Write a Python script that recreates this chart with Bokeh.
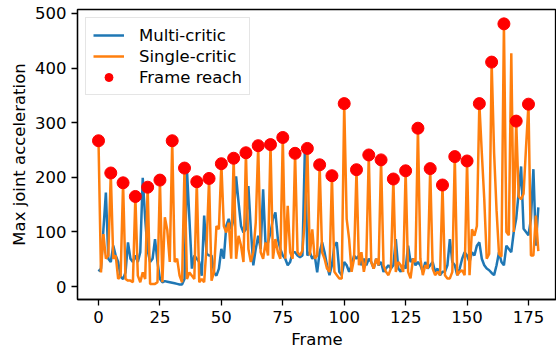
from bokeh.plotting import figure
from bokeh.models import Range1d, Legend, LegendItem, FixedTicker
from bokeh.embed import file_html
from bokeh.resources import INLINE

frames = list(range(180))

multi_critic = [
    28, 33, 105, 172, 51, 45, 75, 57, 45, 18,
    14, 26, 81, 51, 45, 57, 45, 63, 199, 124,
    66, 45, 51, 87, 45, 14, 8, 10, 9, 8,
    7, 6, 5, 4, 4, 14, 214, 124, 33, 57,
    51, 45, 20, 130, 60, 57, 57, 26, 20, 33,
    69, 51, 111, 124, 105, 124, 202, 154, 111, 99,
    105, 184, 105, 39, 69, 93, 69, 178, 75, 81,
    99, 124, 136, 87, 69, 57, 51, 39, 45, 63,
    63, 57, 54, 57, 254, 57, 63, 51, 57, 26,
    63, 81, 63, 39, 21, 39, 75, 81, 27, 21,
    45, 39, 27, 39, 57, 51, 57, 39, 51, 39,
    51, 45, 33, 51, 39, 45, 27, 33, 39, 33,
    39, 87, 33, 27, 39, 33, 75, 45, 51, 39,
    45, 39, 27, 45, 33, 39, 45, 27, 33, 21,
    27, 27, 39, 87, 45, 39, 21, 33, 51, 63,
    57, 45, 63, 57, 75, 81, 51, 39, 33, 30,
    25, 21, 39, 63, 45, 39, 75, 69, 63, 100,
    124, 172, 220, 106, 100, 94, 124, 215, 75, 145,
]

single_critic = [
    267, 26, 96, 51, 57, 208, 51, 57, 14, 20,
    190, 14, 11, 11, 8, 165, 20, 8, 26, 14,
    182, 5, 5, 5, 8, 195, 8, 127, 103, 45,
    267, 45, 51, 20, 8, 217, 14, 26, 20, 14,
    192, 8, 14, 8, 75, 198, 11, 26, 111, 105,
    225, 111, 99, 117, 51, 235, 51, 93, 75, 45,
    245, 69, 45, 63, 117, 258, 63, 51, 81, 57,
    260, 51, 87, 63, 51, 273, 51, 148, 63, 51,
    244, 63, 57, 66, 124, 253, 57, 105, 51, 57,
    223, 63, 51, 33, 27, 203, 27, 21, 15, 15,
    335, 124, 87, 27, 51, 214, 39, 63, 27, 51,
    241, 45, 33, 51, 39, 232, 39, 27, 21, 33,
    197, 27, 45, 39, 27, 212, 27, 15, 51, 45,
    290, 51, 21, 39, 33, 216, 33, 21, 27, 21,
    186, 21, 15, 15, 27, 238, 21, 27, 30, 21,
    230, 21, 105, 93, 111, 335, 245, 160, 51, 60,
    411, 245, 140, 60, 55, 481, 100, 94, 427, 100,
    303, 165, 160, 170, 255, 334, 57, 57, 130, 65,
]

reach_frames = frames[::5]
reach_values = single_critic[::5]

x_ticks = [0, 25, 50, 75, 100, 125, 150, 175]
y_ticks = [0, 100, 200, 300, 400, 500]
x_label = "Frame"
y_label = "Max joint acceleration"

FONT = "DejaVu Sans"
FS = "16.5px"

p = figure(width=556, height=351, output_backend="svg", toolbar_location=None,
           x_range=Range1d(-8.55, 186.4), y_range=Range1d(-23.6, 507.3),
           min_border_left=77, min_border_right=0, min_border_top=9, min_border_bottom=0)

p.xgrid.visible = False
p.ygrid.visible = False
p.outline_line_color = "black"
p.outline_line_width = 1.3
p.outline_line_alpha = 1.0
p.background_fill_color = "white"
p.border_fill_color = "white"

p.xaxis.ticker = FixedTicker(ticks=x_ticks)
p.yaxis.ticker = FixedTicker(ticks=y_ticks)
p.xaxis.axis_label = x_label
p.yaxis.axis_label = y_label
for ax in (p.xaxis, p.yaxis):
    ax.axis_line_color = "black"
    ax.axis_line_width = 1.3
    ax.major_tick_line_color = "black"
    ax.major_tick_line_width = 1.3
    ax.major_tick_out = 6
    ax.major_tick_in = 0
    ax.minor_tick_line_color = None
    ax.major_label_text_font = FONT
    ax.major_label_text_font_size = FS
    ax.major_label_text_color = "black"
    ax.major_label_text_line_height = 1.0
    ax.axis_label_text_font = FONT
    ax.axis_label_text_font_size = FS
    ax.axis_label_text_font_style = "normal"
    ax.axis_label_text_color = "black"
    ax.axis_label_text_line_height = 1.0
p.xaxis.major_label_standoff = 5
p.xaxis.axis_label_standoff = 4
p.yaxis.major_label_standoff = 5
p.yaxis.axis_label_standoff = 3

l1 = p.line(frames, multi_critic, line_color="#1f77b4", line_width=2.5)
l2 = p.line(frames, single_critic, line_color="#ff7f0e", line_width=2.5)
s1 = p.scatter(reach_frames, reach_values, size=12, fill_color="red", line_color="red")

legend = Legend(items=[
    LegendItem(label="Multi-critic", renderers=[l1]),
    LegendItem(label="Single-critic", renderers=[l2]),
    LegendItem(label="Frame reach", renderers=[s1]),
], location="top_left")
legend.label_text_font = FONT
legend.label_text_font_size = FS
legend.label_text_color = "black"
legend.glyph_width = 31
legend.glyph_height = 20
legend.label_standoff = 15
legend.spacing = 1
legend.padding = 7
legend.margin = 8
legend.border_line_color = "#cccccc"
legend.border_line_width = 1.2
legend.background_fill_alpha = 0.8
p.add_layout(legend)

open("out.html", "w").write(file_html(p, INLINE))
